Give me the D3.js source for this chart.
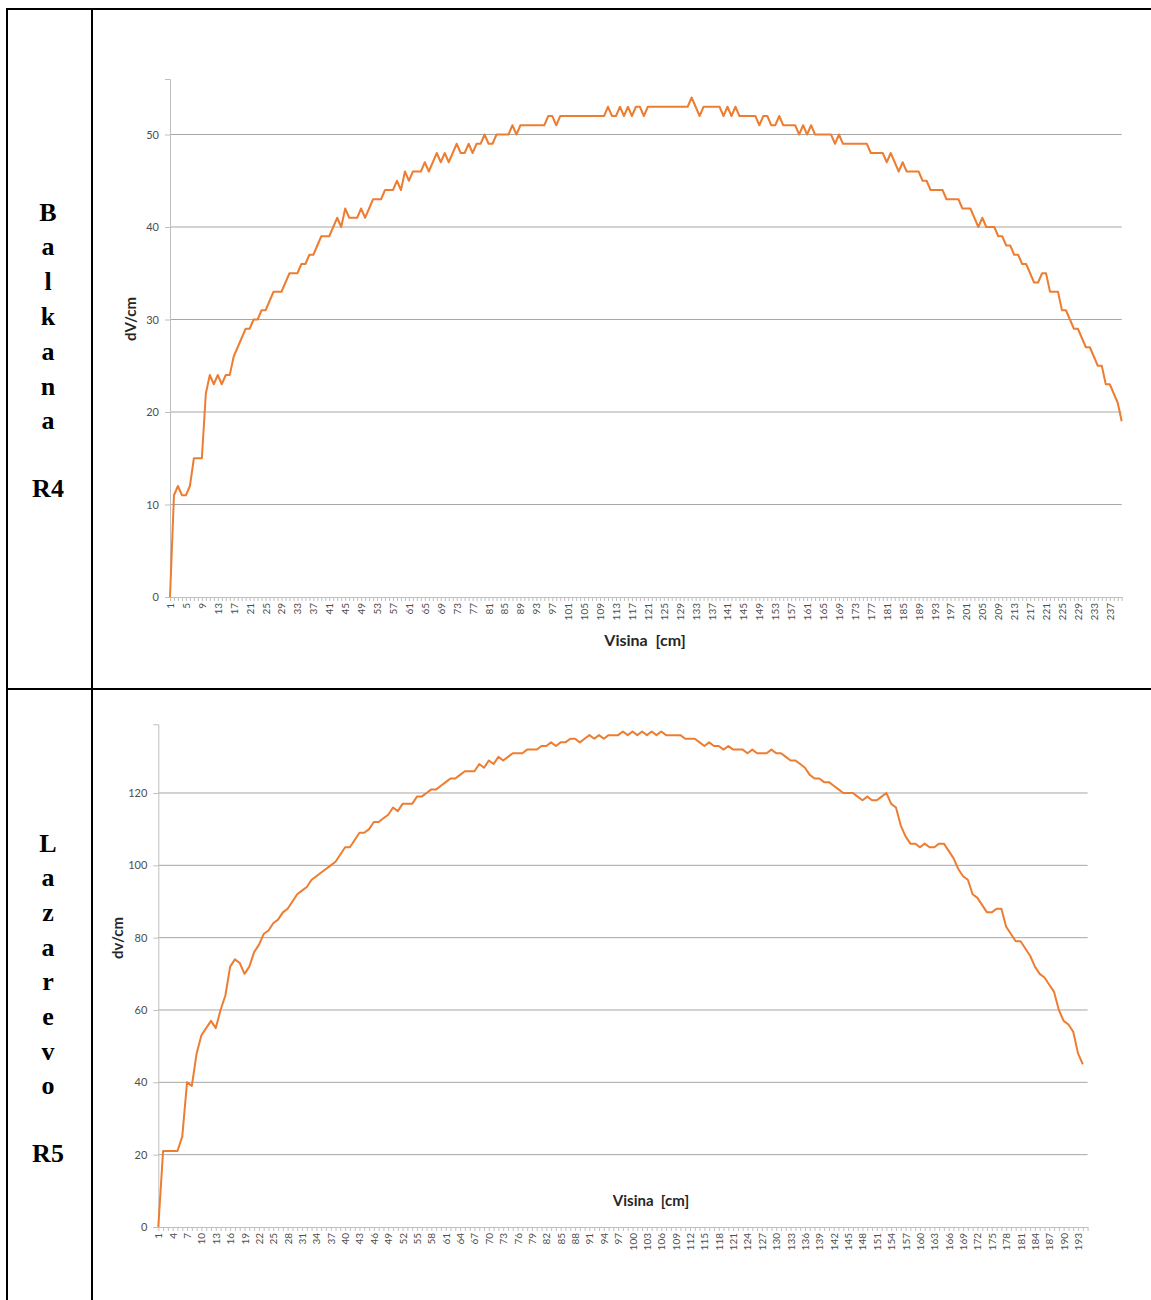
<!DOCTYPE html>
<html>
<head>
<meta charset="utf-8">
<script src="https://cdn.jsdelivr.net/npm/d3@7"></script>
<style>
  body { margin: 0; background: #fff; }
  svg { display: block; }
</style>
</head>
<body>
<svg id="fig" width="1151" height="1300"></svg>
<script>
// Balkana R4: dV/cm measured at each height step (1 .. 240 cm)
const balkanaValues = [
  0,11,12,11,11,12,15,15,15,22,
  24,23,24,23,24,24,26,27,28,29,
  29,30,30,31,31,32,33,33,33,34,
  35,35,35,36,36,37,37,38,39,39,
  39,40,41,40,42,41,41,41,42,41,
  42,43,43,43,44,44,44,45,44,46,
  45,46,46,46,47,46,47,48,47,48,
  47,48,49,48,48,49,48,49,49,50,
  49,49,50,50,50,50,51,50,51,51,
  51,51,51,51,51,52,52,51,52,52,
  52,52,52,52,52,52,52,52,52,52,
  53,52,52,53,52,53,52,53,53,52,
  53,53,53,53,53,53,53,53,53,53,
  53,54,53,52,53,53,53,53,53,52,
  53,52,53,52,52,52,52,52,51,52,
  52,51,51,52,51,51,51,51,50,51,
  50,51,50,50,50,50,50,49,50,49,
  49,49,49,49,49,49,48,48,48,48,
  47,48,47,46,47,46,46,46,46,45,
  45,44,44,44,44,43,43,43,43,42,
  42,42,41,40,41,40,40,40,39,39,
  38,38,37,37,36,36,35,34,34,35,
  35,33,33,33,31,31,30,29,29,28,
  27,27,26,25,25,23,23,22,21,19
];

// Lazarevo R5: dv/cm measured at each height step (1 .. 194 cm)
const lazarevoValues = [
  0,21,21,21,21,25,40,39,48,53,
  55,57,55,60,64,72,74,73,70,72,
  76,78,81,82,84,85,87,88,90,92,
  93,94,96,97,98,99,100,101,103,105,
  105,107,109,109,110,112,112,113,114,116,
  115,117,117,117,119,119,120,121,121,122,
  123,124,124,125,126,126,126,128,127,129,
  128,130,129,130,131,131,131,132,132,132,
  133,133,134,133,134,134,135,135,134,135,
  136,135,136,135,136,136,136,137,136,137,
  136,137,136,137,136,137,136,136,136,136,
  135,135,135,134,133,134,133,133,132,133,
  132,132,132,131,132,131,131,131,132,131,
  131,130,129,129,128,127,125,124,124,123,
  123,122,121,120,120,120,119,118,119,118,
  118,119,120,117,116,111,108,106,106,105,
  106,105,105,106,106,104,102,99,97,96,
  92,91,89,87,87,88,88,83,81,79,
  79,77,75,72,70,69,67,65,60,57,
  56,54,48,45
];

// Category axes (heights in cm) and value-axis ticks
const balkanaHeights = d3.range(1, 241);
const lazarevoHeights = d3.range(1, 196);
const balkanaTicks = [0, 10, 20, 30, 40, 50];
const lazarevoTicks = [0, 20, 40, 60, 80, 100, 120];
const balkanaLabelStep = 4;
const lazarevoLabelStep = 3;
const balkanaMax = 56;
const lazarevoMax = 139;

// Row captions of the table
const balkanaCaption = ["B", "a", "l", "k", "a", "n", "a"];
const lazarevoCaption = ["L", "a", "z", "a", "r", "e", "v", "o"];
const balkanaCode = "R4";
const lazarevoCode = "R5";
const xTitle = "Visina  [cm]";
const balkanaYTitle = "dV/cm";
const lazarevoYTitle = "dv/cm";

const svg = d3.select("#fig");
const LINE = "#ED7D31";
const GRID = "#a6a6a6";
const AXIS = "#bfbfbf";
const TEXT = "#4d4d4d";
const FONT = "Lato, 'Open Sans', sans-serif";

// ---- table frame ----
const frame = svg.append("g").attr("stroke", "#000").attr("stroke-width", 2).attr("fill", "none");
frame.append("line").attr("x1", 6).attr("x2", 1151).attr("y1", 9).attr("y2", 9);
frame.append("line").attr("x1", 7).attr("x2", 7).attr("y1", 8).attr("y2", 1300);
frame.append("line").attr("x1", 92).attr("x2", 92).attr("y1", 8).attr("y2", 1300);
frame.append("line").attr("x1", 6).attr("x2", 1151).attr("y1", 689).attr("y2", 689);

function caption(letters, code, firstY, step, codeY) {
  const g = svg.append("g")
    .attr("font-family", "'Liberation Serif', 'Times New Roman', serif")
    .attr("font-weight", "bold")
    .attr("font-size", 26)
    .attr("fill", "#000")
    .attr("text-anchor", "middle");
  g.selectAll("text.letter").data(letters).join("text")
    .attr("class", "letter")
    .attr("x", 48)
    .attr("y", (d, i) => firstY + i * step)
    .attr("dominant-baseline", "central")
    .text(d => d);
  g.append("text").attr("x", 48).attr("y", codeY)
    .attr("dominant-baseline", "central").text(code);
}
caption(balkanaCaption, balkanaCode, 212, 34.8, 488);
caption(lazarevoCaption, lazarevoCode, 843, 34.7, 1153);

// ---- line chart panel ----
function panel(opt) {
  const x = d3.scaleLinear().domain([1, opt.heights.length]).range([opt.left, opt.right]);
  const y = d3.scaleLinear().domain([0, opt.max]).range([opt.zero, opt.zero - opt.max * opt.unit]);
  const g = svg.append("g").attr("font-family", FONT);

  // horizontal gridlines
  g.append("g").selectAll("line").data(opt.ticks.filter(t => t > 0)).join("line")
    .attr("x1", opt.left).attr("x2", opt.right)
    .attr("y1", d => y(d)).attr("y2", d => y(d))
    .attr("stroke", GRID).attr("stroke-width", 1);

  // value axis
  const ya = g.append("g").attr("transform", `translate(${opt.left},0)`)
    .call(d3.axisLeft(y).tickValues(opt.ticks).tickSize(5).tickPadding(6));
  ya.select(".domain").attr("stroke", AXIS);
  ya.selectAll(".tick line").attr("stroke", AXIS);
  ya.selectAll(".tick text").attr("fill", TEXT).attr("font-size", 11).attr("font-family", FONT);

  // category axis
  const xa = g.append("g").attr("transform", `translate(0,${opt.zero})`)
    .call(d3.axisBottom(x).tickValues(opt.heights).tickSize(4).tickSizeOuter(0)
      .tickFormat(d => (d - 1) % opt.step === 0 ? d : ""));
  xa.select(".domain").attr("stroke", AXIS);
  xa.selectAll(".tick line").attr("stroke", AXIS);
  xa.selectAll(".tick text")
    .attr("fill", TEXT).attr("font-size", 10).attr("font-family", FONT)
    .attr("text-anchor", "end")
    .attr("transform", "rotate(-90)")
    .attr("x", -6).attr("y", 0).attr("dy", "0.35em");

  // series line
  g.append("path").datum(opt.values)
    .attr("fill", "none").attr("stroke", LINE).attr("stroke-width", 2)
    .attr("stroke-linejoin", "round")
    .attr("d", d3.line().x((d, i) => x(opt.heights[i])).y(d => y(d)));

  // titles
  g.append("text").attr("x", opt.xTitleX).attr("y", opt.xTitleY)
    .attr("text-anchor", "middle").attr("font-weight", "bold").attr("font-size", opt.xTitleSize)
    .attr("fill", "#262626").attr("xml:space", "preserve").text(xTitle);
  g.append("text")
    .attr("transform", `translate(${opt.yTitleX},${opt.yTitleY}) rotate(-90)`)
    .attr("text-anchor", "middle").attr("font-weight", "bold").attr("font-size", opt.yTitleSize)
    .attr("fill", "#262626").text(opt.yTitle);
}

panel({
  values: balkanaValues, heights: balkanaHeights, ticks: balkanaTicks,
  step: balkanaLabelStep, max: balkanaMax,
  left: 170, right: 1121.7, zero: 597, unit: 9.25,
  xTitleX: 645, xTitleY: 646, xTitleSize: 16,
  yTitleX: 136, yTitleY: 319, yTitleSize: 15, yTitle: balkanaYTitle
});

panel({
  values: lazarevoValues, heights: lazarevoHeights, ticks: lazarevoTicks,
  step: lazarevoLabelStep, max: lazarevoMax,
  left: 158.3, right: 1087.6, zero: 1227, unit: 3.6167,
  xTitleX: 651, xTitleY: 1206, xTitleSize: 15,
  yTitleX: 123, yTitleY: 938, yTitleSize: 15, yTitle: lazarevoYTitle
});
</script>
</body>
</html>
